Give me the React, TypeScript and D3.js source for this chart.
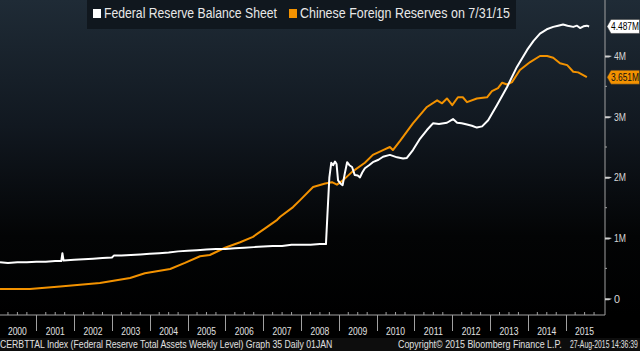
import React, { useLayoutEffect, useRef } from "react";
import * as d3 from "d3";

// Federal Reserve total assets (shown as M on the Bloomberg axis)
const fedDates = [
  2000.04, 2000.25, 2000.5, 2000.75, 2001.0, 2001.25, 2001.5, 2001.66, 2001.69, 2001.72,
  2002.0, 2002.25, 2002.5, 2002.75, 2003.0, 2003.05, 2003.25, 2003.5, 2003.75, 2004.0,
  2004.25, 2004.5, 2004.75, 2005.0, 2005.25, 2005.5, 2005.75, 2006.0, 2006.25, 2006.5,
  2006.75, 2007.0, 2007.25, 2007.5, 2007.75, 2008.0, 2008.25, 2008.5, 2008.66, 2008.7,
  2008.75, 2008.8, 2008.85, 2008.9, 2008.94, 2008.98, 2009.04, 2009.1, 2009.16, 2009.22,
  2009.28, 2009.35, 2009.42, 2009.5, 2009.56, 2009.62, 2009.69, 2009.8, 2009.9, 2010.05,
  2010.17, 2010.35, 2010.54, 2010.7, 2010.8, 2010.96, 2011.15, 2011.33, 2011.49, 2011.65,
  2011.86, 2012.02, 2012.13, 2012.25, 2012.39, 2012.52, 2012.65, 2012.79, 2012.95, 2013.18,
  2013.45, 2013.71, 2013.98, 2014.15, 2014.32, 2014.5, 2014.67, 2014.8, 2014.93, 2015.05,
  2015.2, 2015.3, 2015.38, 2015.47, 2015.56, 2015.62,
];
const fedValues = [
  0.6, 0.59, 0.6, 0.6, 0.61, 0.61, 0.62, 0.62, 0.75, 0.63,
  0.64, 0.65, 0.66, 0.67, 0.68, 0.71, 0.71, 0.72, 0.73, 0.74,
  0.75, 0.76, 0.78, 0.79, 0.8, 0.81, 0.82, 0.82, 0.83, 0.84,
  0.85, 0.86, 0.87, 0.87, 0.89, 0.89, 0.89, 0.9, 0.9, 1.4,
  2.0, 2.24, 2.2, 2.26, 2.22, 1.95, 1.9, 1.87, 2.07, 2.25,
  2.2, 2.17, 2.04, 2.03, 2.0, 2.08, 2.15, 2.2, 2.25, 2.29,
  2.34, 2.37, 2.33, 2.31, 2.32, 2.45, 2.64, 2.78, 2.89, 2.88,
  2.9, 2.96, 2.9, 2.89, 2.87, 2.85, 2.82, 2.84, 2.94, 3.19,
  3.49, 3.82, 4.1, 4.25, 4.37, 4.44, 4.48, 4.5, 4.52, 4.5,
  4.48, 4.5, 4.46, 4.49, 4.5, 4.487,
];

// Chinese foreign reserves
const chinaDates = [
  2000.04, 2000.83, 2001.63, 2002.68, 2003.48, 2003.87, 2004.54, 2004.93, 2005.33, 2005.59,
  2005.99, 2006.39, 2006.73, 2007.05, 2007.37, 2007.45, 2007.79, 2007.97, 2008.32, 2008.64,
  2008.82, 2008.95, 2009.11, 2009.35, 2009.69, 2009.9, 2010.17, 2010.35, 2010.43, 2010.62,
  2010.96, 2011.33, 2011.6, 2011.73, 2011.86, 2012.0, 2012.15, 2012.28, 2012.39, 2012.65,
  2012.92, 2013.05, 2013.21, 2013.32, 2013.45, 2013.58, 2013.79, 2014.06, 2014.32, 2014.51,
  2014.67, 2014.85, 2015.04, 2015.2, 2015.33, 2015.56,
];
const chinaValues = [
  0.16, 0.16, 0.2, 0.26, 0.34, 0.42, 0.49, 0.59, 0.7, 0.72,
  0.84, 0.93, 1.02, 1.16, 1.3, 1.35, 1.51, 1.62, 1.84, 1.9,
  1.92, 1.88, 1.95, 2.09, 2.24, 2.37, 2.45, 2.5, 2.45, 2.6,
  2.89, 3.16, 3.27, 3.22, 3.3, 3.19, 3.32, 3.32, 3.24, 3.3,
  3.32, 3.42, 3.47, 3.56, 3.53, 3.57, 3.77, 3.9, 4.0, 4.0,
  3.97, 3.88, 3.85, 3.74, 3.73, 3.651,
];

const years = d3.range(2000, 2016);
const yTicks = [0, 1, 2, 3, 4];
const yMinor = [0.5, 1.5, 2.5, 3.5];
const lastFed = "4.487M";
const lastChina = "3.651M";

const W = 640;
const H = 351;
const axisX = 605;
const axisY = 315;
const font = "'Liberation Sans', sans-serif";

export default function App() {
  const ref = useRef<SVGSVGElement>(null);

  // squeeze texts horizontally to the narrow Bloomberg widths (data-fit = width in px)
  useLayoutEffect(() => {
    const svg = d3.select(ref.current);
    svg.selectAll<SVGTextElement, unknown>("text[data-fit]").each(function () {
      const target = +(this.getAttribute("data-fit") || 0);
      const w = this.getComputedTextLength();
      const tx = +(this.getAttribute("x") || 0);
      const ty = +(this.getAttribute("y") || 0);
      const k = w > 0 ? target / w : 1;
      d3.select(this)
        .attr("transform", `translate(${tx},${ty}) scale(${k},1) translate(${-tx},${-ty})`);
    });
  }, []);

  const x = d3.scaleLinear().domain([2000, 2016]).range([-1.5, 603.5]);
  const y = d3.scaleLinear().domain([0, 4]).range([298.7, 56]);

  const line = d3
    .line<[number, number]>()
    .x((d) => x(d[0]))
    .y((d) => y(d[1]));

  const fed = fedDates.map((d, i) => [d, fedValues[i]] as [number, number]);
  const china = chinaDates.map((d, i) => [d, chinaValues[i]] as [number, number]);

  const quarters = d3.range(2000, 2016.01, 0.25).filter((q) => q % 1 !== 0);

  const tag = (yy: number, label: string, fill: string, color: string) => {
    const h = 14;
    const p = `M${axisX + 2},${yy} L${axisX + 6},${yy - h / 2} L${W - 0.5},${yy - h / 2} L${W - 0.5},${yy + h / 2} L${axisX + 6},${yy + h / 2} Z`;
    return (
      <g>
        <path d={p} fill={fill} stroke="#333" strokeWidth={0.5} />
        <text x={axisX + 6} y={yy + 4} fontSize={11} fill={color} fontFamily={font} data-fit={28}>
          {label}
        </text>
      </g>
    );
  };

  return (
    <svg
      ref={ref}
      width={W}
      height={H}
      style={{ position: "absolute", left: 0, top: 0, background: "#000" }}
    >
      <defs>
        <linearGradient id="bg" x1="0" y1="0" x2="0" y2="1">
          <stop offset="0%" stopColor="#1f2b36" />
          <stop offset="40%" stopColor="#111820" />
          <stop offset="75%" stopColor="#030405" />
          <stop offset="100%" stopColor="#000" />
        </linearGradient>
        <clipPath id="plot">
          <rect x={0} y={0} width={axisX} height={axisY} />
        </clipPath>
      </defs>
      <rect x={0} y={0} width={W} height={axisY} fill="url(#bg)" />
      <rect x={0} y={338} width={W} height={H - 338} fill="#0d0d0d" />

      {/* legend */}
      <rect x={87} y={0} width={429} height={29} fill="#10171e" />
      <rect x={93} y={9} width={8} height={9} fill="#fff" />
      <text x={104} y={18.5} fontSize={14} fill="#e8e8e8" fontFamily={font} data-fit={173}>
        Federal Reserve Balance Sheet
      </text>
      <rect x={289} y={9} width={8} height={9} fill="#f39200" />
      <text x={300} y={18.5} fontSize={14} fill="#e8e8e8" fontFamily={font} data-fit={210}>
        Chinese Foreign Reserves on 7/31/15
      </text>

      {/* series */}
      <g clipPath="url(#plot)">
        <path d={line(china) || ""} fill="none" stroke="#f39200" strokeWidth={2} strokeLinejoin="round" />
        <path d={line(fed) || ""} fill="none" stroke="#fff" strokeWidth={2} strokeLinejoin="round" />
      </g>

      {/* y axis */}
      <line x1={axisX} x2={axisX} y1={0} y2={axisY} stroke="#a0a0a0" strokeWidth={1} />
      {yMinor.map((v) => (
        <line key={v} x1={axisX} x2={axisX + 2} y1={y(v)} y2={y(v)} stroke="#a0a0a0" />
      ))}
      {yTicks.map((v) => (
        <g key={v}>
          <path
            d={`M${axisX},${y(v) - 0.5} L${axisX + 4},${y(v) - 0.5} L${axisX + 7},${y(v)} L${axisX + 4},${y(v) + 1.5} L${axisX},${y(v) + 1.5} Z`}
            fill="#d0d0d0"
          />
          <text x={axisX + 9} y={y(v) + 4} fontSize={11} fill="#d8d8d8" fontFamily={font} data-fit={v === 0 ? 6 : 12}>
            {v === 0 ? "0" : `${v}M`}
          </text>
        </g>
      ))}
      {tag(y(4.487), lastFed, "#ffffff", "#000")}
      {tag(y(3.651), lastChina, "#f39200", "#111")}

      {/* x axis */}
      <line x1={0} x2={axisX} y1={axisY} y2={axisY} stroke="#a0a0a0" strokeWidth={1} />
      {quarters.map((q) => (
        <line key={q} x1={x(q)} x2={x(q)} y1={axisY - 3} y2={axisY} stroke="#a0a0a0" />
      ))}
      {years.slice(1).map((yr) => (
        <line key={yr} x1={Math.round(x(yr)) + 0.5} x2={Math.round(x(yr)) + 0.5} y1={axisY} y2={331} stroke="#a0a0a0" />
      ))}
      {years.map((yr) => (
        <text key={yr} x={x(yr + 0.5) - 9.5} y={335} fontSize={11} fill="#e0e0e0" fontFamily={font} data-fit={19}>
          {yr}
        </text>
      ))}

      {/* footer */}
      <text x={0} y={348} fontSize={11} fill="#e0e0e0" fontFamily={font} data-fit={333}>
        CERBTTAL Index (Federal Reserve Total Assets Weekly Level) Graph 35  Daily 01JAN
      </text>
      <text x={398} y={348} fontSize={11} fill="#e0e0e0" fontFamily={font} data-fit={164}>
        Copyright© 2015 Bloomberg Finance L.P.
      </text>
      <text x={570} y={348} fontSize={11} fill="#e0e0e0" fontFamily={font} data-fit={68}>
        27-Aug-2015 14:36:39
      </text>
    </svg>
  );
}
